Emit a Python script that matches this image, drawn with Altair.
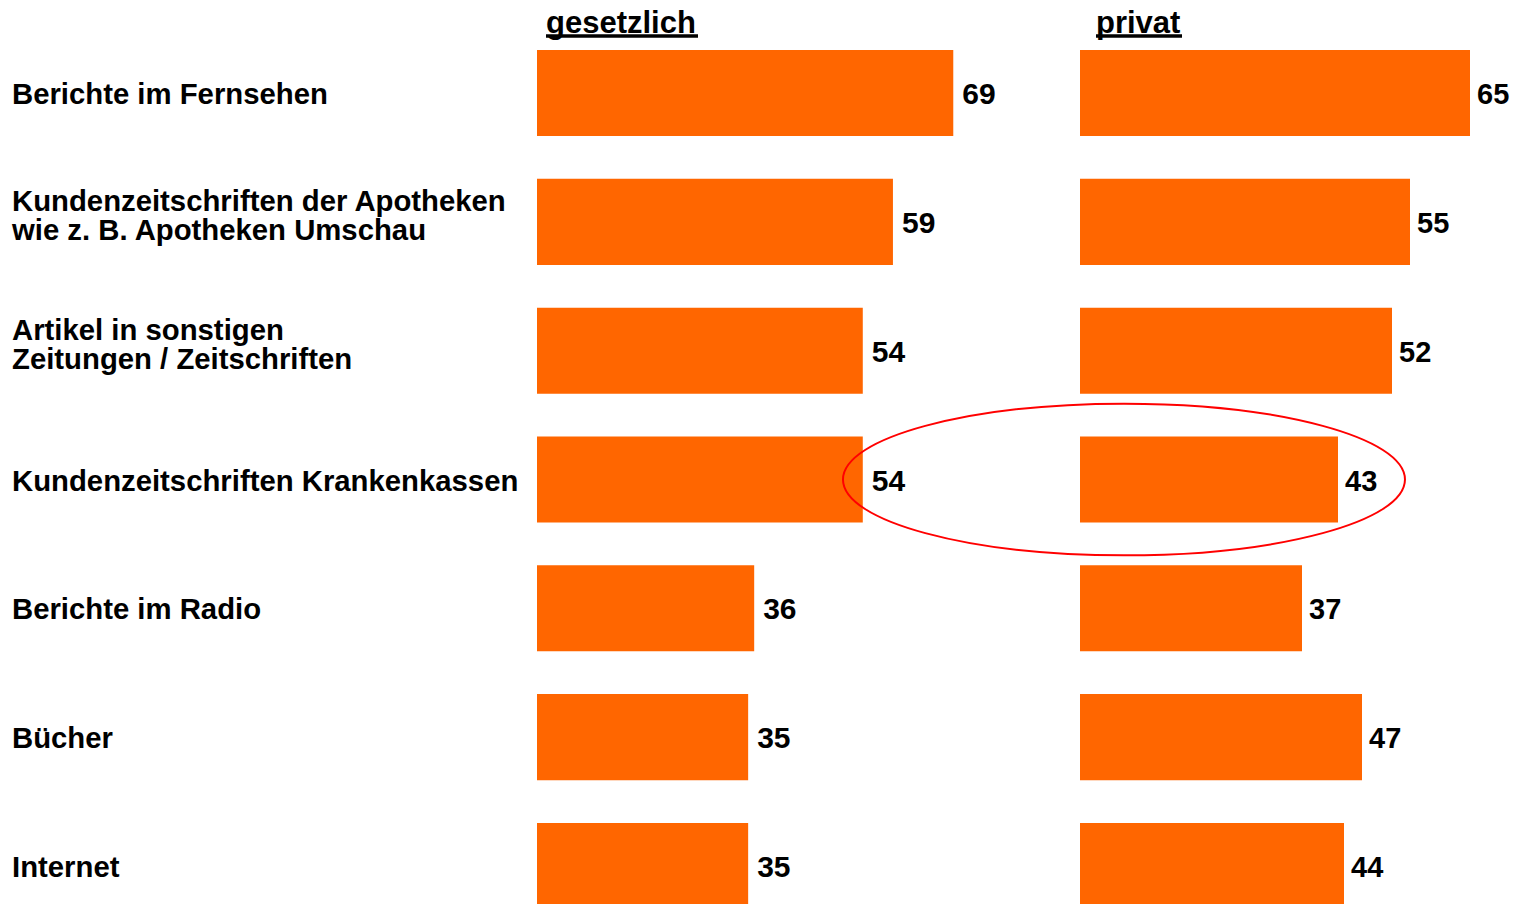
import altair as alt
import pandas as pd

categories = [
    "Berichte im Fernsehen",
    "Kundenzeitschriften der Apotheken\nwie z. B. Apotheken Umschau",
    "Artikel in sonstigen\nZeitungen / Zeitschriften",
    "Kundenzeitschriften Krankenkassen",
    "Berichte im Radio",
    "Bücher",
    "Internet",
]
gesetzlich = [69, 59, 54, 54, 36, 35, 35]
privat = [65, 55, 52, 43, 37, 47, 44]
headers = ["gesetzlich", "privat"]

highlight_cat = ["Kundenzeitschriften Krankenkassen"]
highlight_pos = [7.33]

FONT = "Liberation Sans"
ORANGE = "#FF6600"

df = pd.DataFrame({"cat": categories, "gesetzlich": gesetzlich, "privat": privat})

yscale = alt.Scale(type="band", domain=categories, paddingInner=0.332, paddingOuter=0.326)
Y = alt.Y("cat:N", sort=categories, scale=yscale, axis=None)

H = 943

lab_base = alt.Chart(df).encode(y=Y, x=alt.value(4), text="cat:N")
single = lab_base.mark_text(
    align="left", baseline="middle", font=FONT, fontSize=29.3, fontWeight="bold",
    dy=2, color="black"
).transform_filter("indexof(datum.cat, '\\n') < 0")
multi = lab_base.mark_text(
    align="left", baseline="middle", font=FONT, fontSize=29.3, fontWeight="bold",
    lineBreak="\n", lineHeight=29, dy=-20, color="black"
).transform_filter("indexof(datum.cat, '\\n') >= 0")
labels = alt.layer(single, multi).properties(width=529, height=H)


def panel(field, header, width, px_per_unit, hx, ul_x2, val_dx, val_fs, extra=None):
    xs = alt.Scale(domain=[0, width / px_per_unit])
    base = alt.Chart(df).encode(y=Y)
    bars = base.mark_bar(color=ORANGE).encode(
        x=alt.X(f"{field}:Q", scale=xs, axis=None)
    )
    vals = base.mark_text(
        align="left", baseline="middle", dx=val_dx, dy=2, font=FONT, fontSize=val_fs,
        fontWeight="bold", color="black"
    ).encode(x=alt.X(f"{field}:Q", scale=xs, axis=None), text=f"{field}:Q")
    hdr = alt.Chart(pd.DataFrame({"t": [header]})).mark_text(
        align="left", baseline="alphabetic", font=FONT, fontSize=31,
        fontWeight="bold", color="black"
    ).encode(x=alt.value(hx), y=alt.value(25), text="t:N")
    ul = alt.Chart(pd.DataFrame({"t": [header]})).mark_rule(
        color="black", strokeWidth=3.5
    ).encode(x=alt.value(hx), x2=alt.value(ul_x2), y=alt.value(28))
    layers = [bars, vals, hdr, ul]
    if extra is not None:
        layers.append(extra(xs))
    return alt.layer(*layers).properties(width=width, height=H)


def ellipse(xs):
    k = 0.27
    c = round(k * 0.5523, 4)
    path = (f"M -1 0 C -1 {-c} -0.5523 {-k} 0 {-k} C 0.5523 {-k} 1 {-c} 1 0 "
            f"C 1 {c} 0.5523 {k} 0 {k} C -0.5523 {k} -1 {c} -1 0 Z")
    edf = pd.DataFrame({"cat": highlight_cat, "pos": highlight_pos})
    return alt.Chart(edf).mark_point(
        shape=path, size=562 * 562, filled=False, stroke="#FF0000",
        strokeWidth=2, opacity=1
    ).encode(x=alt.X("pos:Q", scale=xs, axis=None), y=Y)


left = panel("gesetzlich", headers[0], 543, 6.033, 9, 161, 9, 30)
right = panel("privat", headers[1], 410, 6.0, 16, 102, 7, 29, extra=ellipse)

chart = alt.hconcat(
    labels, left, right, spacing=0, bounds="flush",
    padding={"left": 0, "top": 0, "right": 0, "bottom": 0},
).configure_view(stroke=None)

chart.save("out.html", embed_options={"renderer": "svg", "actions": False})
